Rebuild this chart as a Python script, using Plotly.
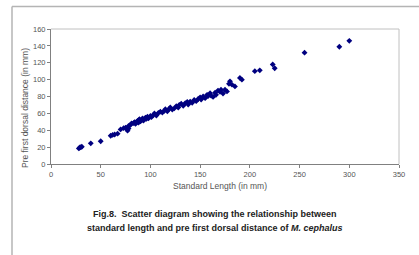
import plotly.graph_objects as go

standard_length = [28, 29, 30, 31, 40, 50, 60, 62, 64, 67, 70, 73, 75, 77, 78, 78, 80, 81, 83, 84,
                   85, 86, 87, 88, 88, 89, 90, 91, 92, 93, 94, 95, 96, 97, 98, 100, 101, 103, 104, 106,
                   108, 110, 112, 114, 115, 117, 119, 120, 122, 124, 126, 128, 129, 131, 133, 135, 137, 138, 140, 142,
                   144, 146, 148, 150, 151, 153, 155, 157, 158, 160, 161, 163, 165, 166, 168, 170, 171, 173, 175, 177,
                   179, 180, 182, 185, 190, 192, 205, 210, 223, 225, 255, 290, 300]
pre_dorsal = [18.5, 19.5, 20, 20.5, 24.5, 27, 33.5, 34.5, 35, 36, 41, 42.5, 43, 39.5, 42, 45, 46.5, 48, 48.5, 49.5,
              47.5, 50, 51, 49, 52, 53, 50.5, 52, 54, 51.5, 53, 55, 53.5, 56, 54, 57, 55.5, 58, 60, 57.5,
              60.5, 62, 61, 63, 65, 62.5, 65.5, 67, 64.5, 66, 68.5, 67, 70, 71.5, 69, 72, 73.5, 70.5, 74, 72.5,
              76, 74.5, 77, 79, 76.5, 80, 78, 82, 80.5, 84, 81, 79.5, 84.5, 82, 87, 85.5, 88, 83.5, 88, 86,
              95, 98, 94, 92, 102, 100, 110, 111, 118, 113.5, 132, 139, 146]

x_ticks = [0, 50, 100, 150, 200, 250, 300, 350]
y_ticks = [0, 20, 40, 60, 80, 100, 120, 140, 160]

W, H = 419, 255
L, R, T, B = 51, 399, 29, 164
pw, ph = R - L, B - T

def px(xp):
    return (xp - L) / pw

def py(yp):
    return (B - yp) / ph

font = "Liberation Sans, Arial, sans-serif"

fig = go.Figure(go.Scatter(
    x=standard_length, y=pre_dorsal, mode="markers",
    marker=dict(symbol="diamond", size=4.5, color="#000080", line=dict(width=0)),
    showlegend=False,
))

axis_common = dict(showgrid=False, zeroline=False, ticks="outside", ticklen=3,
                   tickcolor="#808080", showline=True, linecolor="#808080", linewidth=1,
                   tickfont=dict(family=font, size=7.5, color="#555555"))

ann = dict(xref="paper", yref="paper", showarrow=False, xanchor="center", yanchor="middle")

fig.update_layout(
    width=W, height=H,
    margin=dict(l=L, r=W - R, t=T, b=H - B),
    paper_bgcolor="white", plot_bgcolor="white",
    xaxis=dict(range=[0, 350], tickvals=x_ticks, **axis_common),
    yaxis=dict(range=[0, 160], tickvals=y_ticks, **axis_common),
    shapes=[
        dict(type="line", xref="paper", yref="paper", x0=0, x1=1, y0=1, y1=1,
             line=dict(color="#c0c0c0", width=1)),
        dict(type="line", xref="paper", yref="paper", x0=1, x1=1, y0=0, y1=1,
             line=dict(color="#c0c0c0", width=1)),
        dict(type="line", xref="paper", yref="paper", x0=px(12), x1=px(419), y0=py(6.5), y1=py(6.5),
             line=dict(color="#b4b4b4", width=1.5)),
        dict(type="line", xref="paper", yref="paper", x0=px(12), x1=px(12), y0=py(6.5), y1=py(255),
             line=dict(color="#b4b4b4", width=1.5)),
    ],
    annotations=[
        dict(text="Standard Length (in mm)", x=px(220), y=py(186),
             font=dict(family=font, size=8.5, color="#555555"), **ann),
        dict(text="Pre first dorsal distance (in mm)", x=px(25), y=py(108), textangle=-90,
             font=dict(family=font, size=8.5, color="#555555"), **ann),
        dict(text="<b>Fig.8.  Scatter diagram showing the relationship between</b>",
             x=px(215), y=py(214.3), font=dict(family=font, size=9, color="#222222"), **ann),
        dict(text="<b>standard length and pre first dorsal distance of <i>M. cephalus</i></b>",
             x=px(215), y=py(228.3), font=dict(family=font, size=9, color="#222222"), **ann),
    ],
)

fig.write_html("out.html", config={"displayModeBar": False},
               post_script="document.body.style.margin='0';document.body.style.overflow='hidden';")
